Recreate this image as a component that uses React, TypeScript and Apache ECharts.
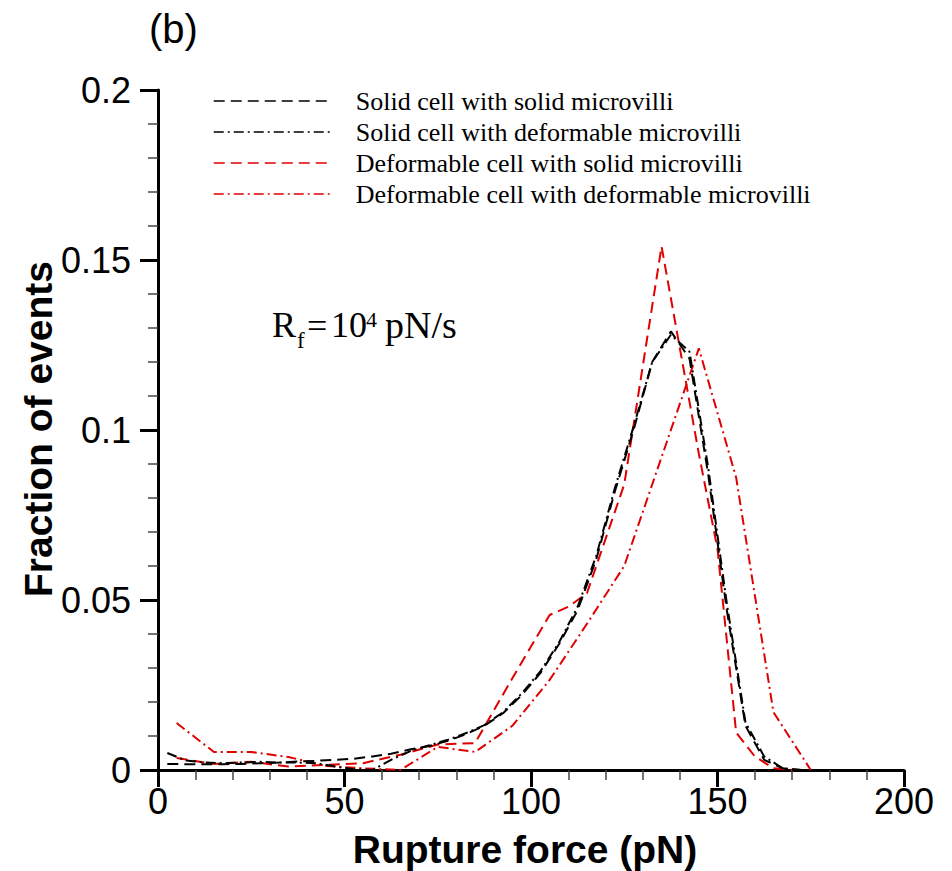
import React, { useEffect, useRef } from "react";
import * as echarts from "echarts";

// ---- Data ----
const seriesNames = [
  "Solid cell with solid microvilli",
  "Solid cell with deformable microvilli",
  "Deformable cell with solid microvilli",
  "Deformable cell with deformable microvilli",
];

const solidSolidX = [2.5, 7.5, 12.5, 17.5, 22.5, 27.5, 32.5, 37.5, 42.5, 47.5, 52.5, 57.5, 62.5, 67.5, 72.5, 77.5, 82.5, 87.5, 92.5, 97.5, 102.5, 107.5, 112.5, 117.5, 122.5, 127.5, 132.5, 137.5, 142.5, 147.5, 152.5, 157.5, 162.5, 167.5, 172.5];
const solidSolidY = [0.0018, 0.0017, 0.0017, 0.0017, 0.0018, 0.002, 0.0022, 0.0025, 0.0027, 0.003, 0.0033, 0.004, 0.0048, 0.006, 0.007, 0.0085, 0.0105, 0.013, 0.0167, 0.022, 0.0285, 0.037, 0.047, 0.062, 0.082, 0.1, 0.12, 0.129, 0.121, 0.087, 0.047, 0.013, 0.003, 0.0005, 0];

const solidDefX = [2.5, 7.5, 12.5, 17.5, 22.5, 27.5, 32.5, 37.5, 42.5, 47.5, 52.5, 57.5, 62.5, 67.5, 72.5, 77.5, 82.5, 87.5, 92.5, 97.5, 102.5, 107.5, 112.5, 117.5, 122.5, 127.5, 132.5, 137.5, 142.5, 147.5, 152.5, 157.5, 162.5, 167.5, 172.5];
const solidDefY = [0.005, 0.0028, 0.0022, 0.002, 0.0022, 0.0024, 0.0022, 0.0022, 0.002, 0.001, 0.0002, 0, 0.003, 0.0055, 0.0072, 0.0088, 0.0108, 0.0132, 0.017, 0.0225, 0.029, 0.0375, 0.048, 0.063, 0.083, 0.101, 0.12, 0.128, 0.123, 0.089, 0.049, 0.014, 0.004, 0.0005, 0];

const defSolidX = [5, 15, 25, 35, 45, 55, 65, 75, 85, 95, 105, 110, 115, 125, 135, 145, 150, 155, 160, 165, 170];
const defSolidY = [0.0035, 0.0018, 0.0024, 0.001, 0.0015, 0.002, 0.0045, 0.0075, 0.0079, 0.027, 0.0456, 0.048, 0.052, 0.084, 0.154, 0.093, 0.065, 0.011, 0.004, 0.0005, 0];

const defDefX = [5, 15, 25, 35, 45, 55, 65, 75, 85, 95, 105, 115, 125, 135, 145, 155, 165, 175];
const defDefY = [0.0138, 0.0053, 0.0053, 0.0038, 0.0012, 0.0005, 0, 0.0068, 0.0053, 0.013, 0.0265, 0.043, 0.06, 0.092, 0.124, 0.086, 0.017, 0];

const xTicks = { min: 0, max: 200, interval: 50 };
const yTicks = { min: 0, max: 0.2, interval: 0.05 };

const SANS = "'Liberation Sans', Arial, Helvetica, sans-serif";
const SERIF = "'Liberation Serif', 'Times New Roman', Times, serif";
const RED = "#e00000";
const BLACK = "#000000";

const pairs = (xs: number[], ys: number[]) => xs.map((x, i) => [x, ys[i]]);

export default function App() {
  const ref = useRef<HTMLDivElement>(null);

  useEffect(() => {
    if (!ref.current) return;
    const chart = echarts.init(ref.current, undefined, { renderer: "svg" });

    const dashed = [11, 6];
    const dashDot = [10, 4, 2, 4];

    const mk = (name: string, data: number[][], color: string, type: number[], z: number) => ({
      name,
      type: "line",
      data,
      showSymbol: false,
      symbol: "none",
      z,
      lineStyle: { color, width: 2, type },
      itemStyle: { color },
    });

    chart.setOption({
      animation: false,
      backgroundColor: "#ffffff",
      grid: { left: 158, top: 90, width: 746, height: 680, containLabel: false },
      legend: {
        show: true,
        orient: "vertical",
        left: 208,
        top: 83,
        itemWidth: 117,
        itemHeight: 14,
        itemGap: 5,
        data: seriesNames,
        lineStyle: { width: 1.5 },
        itemStyle: { opacity: 0, borderWidth: 0 },
        textStyle: {
          fontFamily: SERIF,
          fontSize: 26,
          color: "#000",
          lineHeight: 26,
          padding: [0, 0, 0, 20],
        },
      },
      xAxis: {
        type: "value",
        min: xTicks.min,
        max: xTicks.max,
        interval: xTicks.interval,
        axisLine: { show: true, onZero: false, lineStyle: { color: "#000", width: 3 } },
        axisTick: { show: true, inside: false, length: 17, lineStyle: { color: "#000", width: 3 } },
        minorTick: { show: true, splitNumber: 5, length: 10, lineStyle: { color: "#444", width: 1.5 } },
        axisLabel: { margin: 13, fontSize: 36, color: "#000", fontFamily: SANS },
        splitLine: { show: false },
        minorSplitLine: { show: false },
      },
      yAxis: {
        type: "value",
        min: yTicks.min,
        max: yTicks.max,
        interval: yTicks.interval,
        axisLine: { show: true, onZero: false, lineStyle: { color: "#000", width: 3 } },
        axisTick: { show: true, inside: false, length: 18, lineStyle: { color: "#000", width: 3 } },
        minorTick: { show: true, splitNumber: 5, length: 10, lineStyle: { color: "#444", width: 1.5 } },
        axisLabel: {
          margin: 27,
          fontSize: 36,
          color: "#000",
          fontFamily: SANS,
          formatter: (v: number) => String(Math.round(v * 100) / 100),
        },
        splitLine: { show: false },
        minorSplitLine: { show: false },
      },
      series: [
        mk(seriesNames[0], pairs(solidSolidX, solidSolidY), BLACK, dashed, 4),
        mk(seriesNames[1], pairs(solidDefX, solidDefY), BLACK, dashDot, 3),
        mk(seriesNames[2], pairs(defSolidX, defSolidY), RED, dashed, 2),
        mk(seriesNames[3], pairs(defDefX, defDefY), RED, dashDot, 1),
      ],
      graphic: [
        {
          type: "text",
          left: 149,
          top: 9,
          style: { text: "(b)", font: `40px ${SANS}`, fill: "#000" },
        },
        {
          type: "text",
          x: 525,
          y: 849,
          style: {
            text: "Rupture force (pN)",
            font: `bold 39px ${SANS}`,
            fill: "#000",
            align: "center",
            verticalAlign: "middle",
          },
        },
        {
          type: "text",
          x: 38,
          y: 429,
          rotation: Math.PI / 2,
          style: {
            text: "Fraction of events",
            font: `bold 39px ${SANS}`,
            fill: "#000",
            align: "center",
            verticalAlign: "middle",
          },
        },
        // R_f = 10^4 pN/s
        { type: "text", x: 272, y: 325, style: { text: "R", font: `36px ${SERIF}`, fill: "#000", verticalAlign: "middle" } },
        { type: "text", x: 297, y: 340, style: { text: "f", font: `23px ${SERIF}`, fill: "#000", verticalAlign: "middle" } },
        { type: "text", x: 307, y: 326, style: { text: "=", font: `36px ${SERIF}`, fill: "#000", verticalAlign: "middle" } },
        { type: "text", x: 331, y: 325, style: { text: "10", font: `36px ${SERIF}`, fill: "#000", verticalAlign: "middle" } },
        { type: "text", x: 366, y: 319, style: { text: "4", font: `22px ${SERIF}`, fill: "#000", verticalAlign: "middle" } },
        { type: "text", x: 385, y: 325, style: { text: "pN/s", font: `38px ${SERIF}`, fill: "#000", verticalAlign: "middle" } },
      ],
    });

    return () => chart.dispose();
  }, []);

  return (
    <div
      ref={ref}
      style={{ position: "absolute", left: 0, top: 0, width: 952, height: 871, background: "#fff" }}
    />
  );
}
